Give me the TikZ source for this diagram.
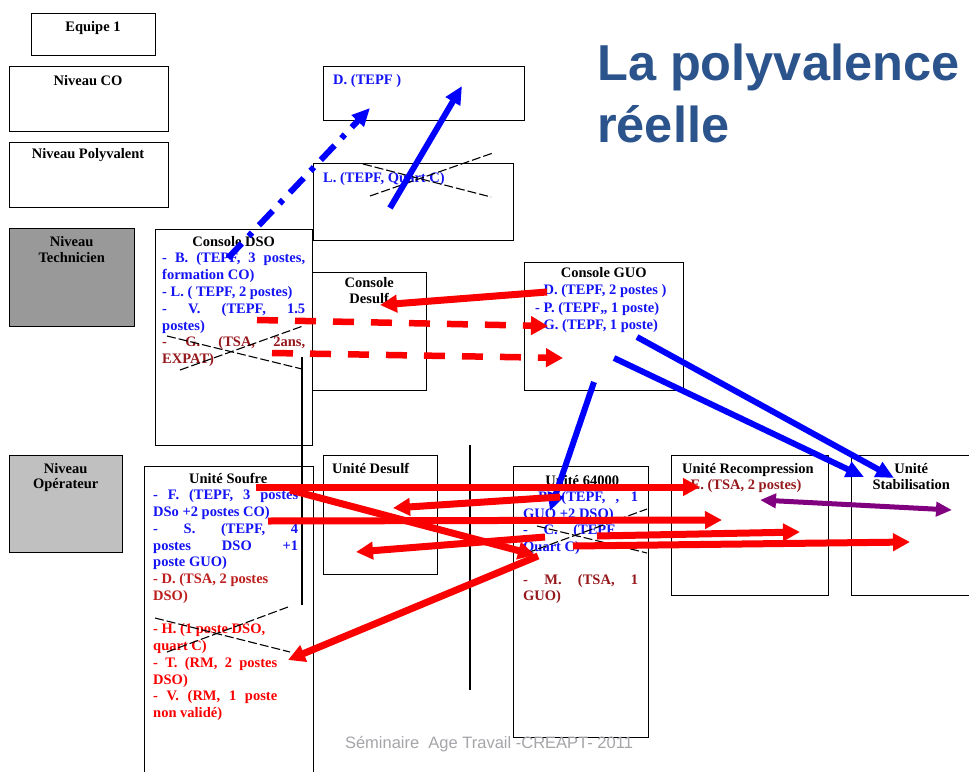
\documentclass[tikz,border=0pt]{standalone}
\usepackage{fontspec}
\setmainfont{Liberation Serif}
\newfontfamily\titlefont{Liberation Sans}
\usetikzlibrary{arrows.meta}
\definecolor{tblue}{RGB}{20,20,245}
\definecolor{tred}{RGB}{250,0,0}
\definecolor{tdred}{RGB}{150,25,30}
\definecolor{tbred}{RGB}{190,30,30}
\definecolor{tblk}{RGB}{0,0,0}
\definecolor{ttl}{RGB}{44,84,140}
\definecolor{ftgray}{RGB}{165,165,170}
\definecolor{gtech}{RGB}{153,153,153}
\definecolor{gop}{RGB}{192,192,192}
\definecolor{apurple}{RGB}{128,0,128}
\newcommand{\txtblock}[2]{\vtop{\baselineskip=#1\lineskiplimit=-50pt\lineskip=0pt\parindent=0pt #2}}
\newcommand{\jln}[3]{\hbox to #1{\color{#2}#3}}
\newcommand{\nln}[2]{\hbox{\color{#1}#2}}
\newcommand{\cln}[3]{\hbox to #1{\hfil\color{#2}#3\hfil}}
\begin{document}
\begin{tikzpicture}[x=1pt,y=-1pt,
  box/.style={draw=black,line width=1.3pt,inner sep=0pt,anchor=north west},
  txt/.style={inner sep=0pt,font=\bfseries\fontsize{14.5}{17}\selectfont},
  xline/.style={draw=black,line width=1.1pt,dash pattern=on 9pt off 3pt},
  vline/.style={draw=black,line width=1.3pt},
  redarr/.style={draw=tred,line width=7pt,-{Triangle[length=17pt,width=17pt]}},
  reddash/.style={draw=tred,line width=6.5pt,dash pattern=on 21pt off 17pt,-{Triangle[length=17pt,width=18pt]}},
  bluearr/.style={draw=blue,line width=6pt,-{Triangle[length=18pt,width=16pt]}},
  bluedd/.style={draw=blue,line width=6pt,dash pattern=on 20pt off 10pt on 5pt off 10pt,-{Triangle[length=18pt,width=16pt]}},
  purparr/.style={draw=apurple,line width=5pt,{Triangle[length=16pt,width=14pt]}-{Triangle[length=16pt,width=14pt]}}
]
\useasboundingbox[fill=white] (0,0) rectangle (969,771);

% boxes
\node[box,minimum width=124pt,minimum height=42pt] (equipe) at (31,13) {};
\node[box,minimum width=159pt,minimum height=65pt] (nco) at (9,66) {};
\node[box,minimum width=159pt,minimum height=65pt] (npoly) at (9,142) {};
\node[box,fill=gtech,minimum width=125pt,minimum height=98pt] (ntech) at (9,228) {};
\node[box,fill=gop,minimum width=113pt,minimum height=97pt] (nop) at (9,455) {};
\node[box,minimum width=201pt,minimum height=54pt] (dbox) at (323,66) {};
\node[box,minimum width=200pt,minimum height=77pt] (lbox) at (313,163) {};
\node[box,minimum width=157pt,minimum height=216pt] (cdso) at (155,229) {};
\node[box,minimum width=114pt,minimum height=118pt] (cdesulf) at (312,272) {};
\node[box,minimum width=159pt,minimum height=128pt] (cguo) at (524,262) {};
\node[box,minimum width=169pt,minimum height=324pt] (usoufre) at (144,466) {};
\node[box,minimum width=114pt,minimum height=119pt] (udesulf) at (323,455) {};
\node[box,minimum width=135pt,minimum height=271pt] (u64) at (513,466) {};
\node[box,minimum width=157pt,minimum height=140pt] (urec) at (671,455) {};
\node[box,minimum width=139pt,minimum height=140pt] (ustab) at (851,455) {};

% vertical lines
\coordinate (v1a) at (470,445); \coordinate (v1b) at (470,690);
\coordinate (v2a) at (302,357); \coordinate (v2b) at (302,605);
\draw[vline] (v1a) -- (v1b);
\draw[vline] (v2a) -- (v2b);

% titles of left boxes
\node[txt,anchor=base] (tequipe) at (93,31) {Equipe 1};
\node[txt,anchor=base] (tnco) at (88,85) {Niveau CO};
\node[txt,anchor=base] (tnpoly) at (88,158) {Niveau Polyvalent};
\node[txt,anchor=base west] (tntech) at (9,246) {\txtblock{16pt}{\cln{125pt}{tblk}{Niveau}\cln{125pt}{tblk}{Technicien}}};
\node[txt,anchor=base west] (tnop) at (9,473) {\txtblock{15.5pt}{\cln{113pt}{tblk}{Niveau}\cln{113pt}{tblk}{Opérateur}}};

% upper boxes
\node[txt,anchor=base west,text=tblue] (td) at (333,84) {D. (TEPF )};
\node[txt,anchor=base west,text=tblue] (tl) at (323,182) {L. (TEPF, Quart C)};

\node[txt,anchor=base west] (tcdso) at (162,246) {\txtblock{16.8pt}{%
\cln{143pt}{tblk}{Console DSO}%
\jln{143pt}{tblue}{- B. (TEPF, 3 postes,}%
\nln{tblue}{formation CO)}%
\nln{tblue}{- L. ( TEPF, 2 postes)}%
\jln{143pt}{tblue}{- V. (TEPF, 1.5}%
\nln{tblue}{postes)}%
\jln{143pt}{tdred}{- G. (TSA, 2ans,}%
\nln{tdred}{EXPAT)}}};

\node[txt,anchor=base west] (tcdesulf) at (312,287) {\txtblock{16pt}{%
\cln{114pt}{tblk}{Console}\cln{114pt}{tblk}{Desulf}}};

\node[txt,anchor=base west] (tcguo) at (535,277) {\txtblock{17.6pt}{%
\cln{137pt}{tblk}{Console GUO}%
\nln{tblue}{- D. (TEPF, 2 postes )}%
\nln{tblue}{- P. (TEPF,, 1 poste)}%
\nln{tblue}{- G. (TEPF, 1 poste)}}};

% lower boxes
\node[txt,anchor=base west] (tsoufre) at (153,483) {\txtblock{16.75pt}{%
\cln{150pt}{tblk}{Unité Soufre}%
\jln{145pt}{tblue}{- F. (TEPF, 3 postes}%
\nln{tblue}{DSo +2 postes CO)}%
\jln{145pt}{tblue}{- S. (TEPF, 4}%
\jln{145pt}{tblue}{postes DSO +1}%
\nln{tblue}{poste GUO)}%
\nln{tbred}{- D. (TSA, 2 postes}%
\nln{tbred}{DSO)}%
\hbox{}%
\nln{tred}{- H. (1 poste DSO,}%
\nln{tred}{quart C)}%
\jln{124pt}{tred}{- T. (RM, 2 postes}%
\nln{tred}{DSO)}%
\jln{124pt}{tred}{- V. (RM, 1 poste}%
\nln{tred}{non validé)}}};

\node[txt,anchor=base west] (tudesulf) at (332,473) {Unité Desulf};

\node[txt,anchor=base west] (tu64) at (523,485) {\txtblock{16.5pt}{%
\cln{118pt}{tblk}{Unité 64000}%
\jln{115pt}{tblue}{- B. (TEPF, , 1}%
\nln{tblue}{GUO +2 DSO)}%
\jln{92pt}{tblue}{- C. (TEPF}%
\nln{tblue}{Quart C)}%
\hbox{}%
\jln{115pt}{tdred}{- M. (TSA, 1}%
\nln{tdred}{GUO)}}};

\node[txt,anchor=base west] (turec) at (682,473) {\txtblock{16pt}{%
\nln{tblk}{Unité Recompression}%
\nln{tdred}{- E. (TSA, 2 postes)}}};

\node[txt,anchor=base west] (tustab) at (861,473) {\txtblock{16pt}{%
\cln{100pt}{tblk}{Unité}\cln{100pt}{tblk}{Stabilisation}}};

% crossing lines
\coordinate (xl1a) at (370,196); \coordinate (xl1b) at (493,153);
\coordinate (xl2a) at (363,164); \coordinate (xl2b) at (491,197);
\draw[xline] (xl1a) -- (xl1b); \draw[xline] (xl2a) -- (xl2b);
\coordinate (xd1a) at (167,336); \coordinate (xd1b) at (302,369);
\coordinate (xd2a) at (180,370); \coordinate (xd2b) at (303,326);
\draw[xline] (xd1a) -- (xd1b); \draw[xline] (xd2a) -- (xd2b);
\coordinate (xs1a) at (155,618); \coordinate (xs1b) at (290,652);
\coordinate (xs2a) at (167,652); \coordinate (xs2b) at (288,607);
\draw[xline] (xs1a) -- (xs1b); \draw[xline] (xs2a) -- (xs2b);
\coordinate (xu1a) at (537,526); \coordinate (xu1b) at (647,553);
\coordinate (xu2a) at (527,553); \coordinate (xu2b) at (647,509);
\draw[xline] (xu1a) -- (xu1b); \draw[xline] (xu2a) -- (xu2b);

% arrows: blue
\coordinate (b1s) at (228,258); \coordinate (b1e) at (370,108);
\coordinate (b2s) at (390,208); \coordinate (b2e) at (462,86);
\coordinate (b3s) at (594,382); \coordinate (b3e) at (550,511);
\coordinate (b4s) at (637,337); \coordinate (b4e) at (894,478);
\coordinate (b5s) at (614,358); \coordinate (b5e) at (864,477);
\draw[bluedd] (b1s) -- (b1e);
\draw[bluearr] (b2s) -- (b2e);
\draw[bluearr] (b3s) -- (b3e);
\draw[bluearr] (b4s) -- (b4e);
\draw[bluearr] (b5s) -- (b5e);

% arrows: red
\coordinate (r1s) at (547,292); \coordinate (r1e) at (380,305);
\coordinate (r2s) at (257,320); \coordinate (r2e) at (548,326);
\coordinate (r3s) at (272,353); \coordinate (r3e) at (563,358);
\coordinate (r4s) at (256,487); \coordinate (r4e) at (700,487);
\coordinate (r5s) at (268,521); \coordinate (r5e) at (722,520);
\coordinate (r6s) at (597,536); \coordinate (r6e) at (800,532);
\coordinate (r7s) at (573,546); \coordinate (r7e) at (910,542);
\coordinate (r8s) at (560,497); \coordinate (r8e) at (393,508);
\coordinate (r9s) at (545,537); \coordinate (r9e) at (356,552);
\coordinate (r10s) at (290,490); \coordinate (r10e) at (535,555);
\coordinate (r11s) at (538,556); \coordinate (r11e) at (288,660);
\draw[redarr] (r1s) -- (r1e);
\draw[reddash] (r2s) -- (r2e);
\draw[reddash] (r3s) -- (r3e);
\draw[redarr] (r4s) -- (r4e);
\draw[redarr] (r5s) -- (r5e);
\draw[redarr] (r6s) -- (r6e);
\draw[redarr] (r7s) -- (r7e);
\draw[redarr] (r8s) -- (r8e);
\draw[redarr] (r9s) -- (r9e);
\draw[redarr] (r10s) -- (r10e);
\draw[redarr] (r11s) -- (r11e);

% purple
\coordinate (p1s) at (760,500); \coordinate (p1e) at (952,510);
\draw[purparr] (p1s) -- (p1e);

% title and footer
\node[anchor=base west,inner sep=0pt,text=ttl,font=\titlefont\bfseries\fontsize{50.5}{60}\selectfont] (title1) at (597,80) {La polyvalence};
\node[anchor=base west,inner sep=0pt,text=ttl,font=\titlefont\bfseries\fontsize{50.5}{60}\selectfont] (title2) at (597,142) {réelle};
\node[anchor=base,inner sep=0pt,text=ftgray,font=\titlefont\fontsize{16.5}{18}\selectfont] (footer) at (489,748) {Séminaire\ \ Age Travail -CREAPT- 2011};
\end{tikzpicture}
\end{document}
